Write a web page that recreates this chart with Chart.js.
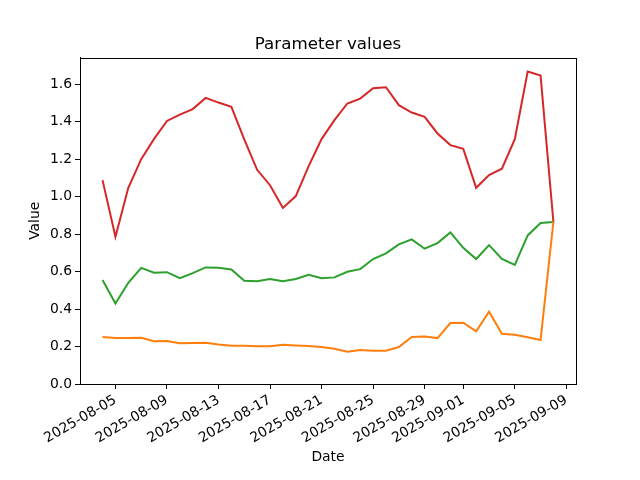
<!DOCTYPE html>
<html><head><meta charset="utf-8">
<script src="https://cdn.jsdelivr.net/npm/chart.js@4/dist/chart.umd.min.js"></script>
<style>html,body{margin:0;padding:0;background:#fff}</style>
</head><body>
<canvas id="c" width="640" height="480" style="display:block;width:640px;height:480px"></canvas>
<script>
const dates = ['2025-08-04','2025-08-05','2025-08-06','2025-08-07','2025-08-08','2025-08-09','2025-08-10','2025-08-11','2025-08-12','2025-08-13','2025-08-14','2025-08-15','2025-08-16','2025-08-17','2025-08-18','2025-08-19','2025-08-20','2025-08-21','2025-08-22','2025-08-23','2025-08-24','2025-08-25','2025-08-26','2025-08-27','2025-08-28','2025-08-29','2025-08-30','2025-08-31','2025-09-01','2025-09-02','2025-09-03','2025-09-04','2025-09-05','2025-09-06','2025-09-07','2025-09-08'];
const orangeValues = [0.251,0.245,0.245,0.247,0.228,0.229,0.217,0.219,0.220,0.211,0.204,0.204,0.202,0.201,0.210,0.206,0.203,0.197,0.188,0.172,0.181,0.178,0.178,0.197,0.251,0.253,0.245,0.325,0.327,0.281,0.386,0.268,0.263,0.249,0.235,0.868];
const greenValues = [0.555,0.430,0.540,0.620,0.594,0.597,0.565,0.592,0.622,0.620,0.611,0.551,0.548,0.560,0.549,0.560,0.583,0.565,0.569,0.599,0.613,0.667,0.697,0.745,0.772,0.722,0.752,0.809,0.727,0.667,0.741,0.668,0.635,0.793,0.859,0.864];
const redValues = [1.088,0.786,1.047,1.200,1.308,1.404,1.438,1.467,1.527,1.502,1.479,1.305,1.143,1.061,0.940,1.003,1.163,1.307,1.408,1.497,1.523,1.579,1.584,1.488,1.449,1.426,1.337,1.275,1.255,1.047,1.115,1.149,1.307,1.667,1.646,0.862];
const xTickLabels = ['2025-08-05','2025-08-09','2025-08-13','2025-08-17','2025-08-21','2025-08-25','2025-08-29','2025-09-01','2025-09-05','2025-09-09'];
const yTickValues = [0.0,0.2,0.4,0.6,0.8,1.0,1.2,1.4,1.6];
const chartTitle = 'Parameter values';

const DAY = 86400000;
const t0 = Date.parse(dates[0]);
const dayIdx = s => Math.round((Date.parse(s) - t0) / DAY);
const toPts = vals => dates.map((d, i) => ({x: dayIdx(d), y: vals[i]}));
const span = dayIdx(dates[dates.length - 1]) - dayIdx(dates[0]);
const xMin = -0.05 * span, xMax = span * 1.05;
const xTickMap = {};
xTickLabels.forEach(s => { xTickMap[dayIdx(s)] = s; });

Chart.defaults.font.family = "'DejaVu Sans', sans-serif";
Chart.defaults.color = '#000';

const frame = {
  id: 'frame',
  afterDatasetsDraw(chart) {
    const {ctx, chartArea: a} = chart;
    ctx.save();
    ctx.strokeStyle = '#000';
    ctx.lineWidth = 1;
    ctx.strokeRect(Math.round(a.left) + 0.5, Math.round(a.top) + 0.5, Math.round(a.right - a.left), Math.round(a.bottom - a.top));
    ctx.fillStyle = '#000';
    ctx.font = "16.7px 'DejaVu Sans', sans-serif";
    ctx.textAlign = 'center';
    ctx.textBaseline = 'alphabetic';
    ctx.fillText(chartTitle, (a.left + a.right) / 2, a.top - 8.3);
    ctx.restore();
  }
};

const ds = (label, vals, color) => ({
  label, data: toPts(vals), borderColor: color, backgroundColor: color,
  borderWidth: 2, pointRadius: 0, tension: 0, fill: false
});

new Chart(document.getElementById('c'), {
  type: 'line',
  data: { datasets: [
    ds('Orange', orangeValues, '#ff7f0e'),
    ds('Green', greenValues, '#2ca02c'),
    ds('Red', redValues, '#d62728')
  ]},
  options: {
    responsive: false, animation: false, devicePixelRatio: 1,
    layout: { padding: { left: 0, right: 64, top: 57.6, bottom: 0 } },
    plugins: {
      legend: { display: false },
      tooltip: { enabled: false },
      title: { display: false }
    },
    scales: {
      x: {
        type: 'linear', min: xMin, max: xMax,
        afterBuildTicks: s => { s.ticks = Object.keys(xTickMap).map(v => ({value: +v})); },
        afterFit: s => { s.height = 96; s.paddingLeft = 0; s.paddingRight = 0; },
        grid: { drawOnChartArea: false, drawTicks: true, tickLength: 5, tickColor: '#000', tickWidth: 1 },
        border: { display: true, color: '#000', width: 1 },
        ticks: { autoSkip: false, minRotation: 30, maxRotation: 30, padding: 3,
          font: { size: 13.9 }, callback: v => xTickMap[v] || '' },
        title: { display: true, text: 'Date', font: { size: 13.9 }, padding: { top: 4, bottom: 14.7 } }
      },
      y: {
        type: 'linear', min: 0, max: 1.742,
        afterBuildTicks: s => { s.ticks = yTickValues.map(v => ({value: v})); },
        afterFit: s => { s.width = 80; },
        grid: { drawOnChartArea: false, drawTicks: true, tickLength: 5, tickColor: '#000', tickWidth: 1 },
        border: { display: true, color: '#000', width: 1 },
        ticks: { padding: 3, font: { size: 13.9 }, callback: v => (+v).toFixed(1) },
        title: { display: true, text: 'Value', font: { size: 13.9 }, padding: { top: 26.7, bottom: 4 } }
      }
    }
  },
  plugins: [frame]
});
</script>
</body></html>
